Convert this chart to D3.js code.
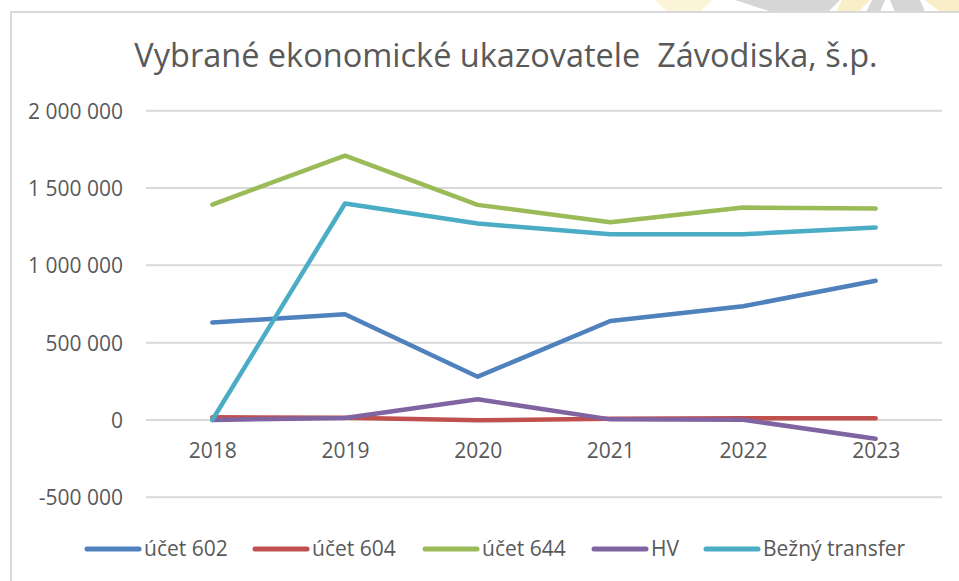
<!DOCTYPE html>
<html>
<head>
<meta charset="utf-8">
<script src="https://cdn.jsdelivr.net/npm/d3@7"></script>
<style>
  html, body { margin: 0; padding: 0; background: #fff; }
  svg { display: block; }
  text { font-family: "Open Sans", sans-serif; fill: #595959; }
</style>
</head>
<body>
<svg id="chart" width="959" height="581"></svg>
<script>
const title = "Vybrané ekonomické ukazovatele  Závodiska, š.p.";
const years = ["2018", "2019", "2020", "2021", "2022", "2023"];
const yTicks = [-500000, 0, 500000, 1000000, 1500000, 2000000];

const seriesNames = ["účet 602", "účet 604", "účet 644", "HV", "Bežný transfer"];
const seriesColors = ["#4f81bd", "#c0504d", "#9bbb59", "#8064a2", "#4bacc6"];

const ucet602 = [630000, 684000, 280000, 640000, 735000, 900000];
const ucet604 = [17000, 15000, -2000, 8000, 11000, 11000];
const ucet644 = [1393000, 1710000, 1391000, 1279000, 1374000, 1367000];
const hv = [0, 13000, 134000, 4000, 2000, -121000];
const beznyTransfer = [0, 1400000, 1270000, 1201000, 1201000, 1244000];

const seriesValues = [ucet602, ucet604, ucet644, hv, beznyTransfer];

const svg = d3.select("#chart");

// decorative watermark remnant above the chart frame
const wm = svg.append("g");
wm.append("path").attr("d", "M655,0 L712,0 L700,12 L668,12 Z").attr("fill", "#fbf4d6");
wm.append("path").attr("d", "M735,0 L840,0 L828,12 L772,12 Z").attr("fill", "#d6d6d6");
wm.append("path").attr("d", "M842,0 L870,0 L858,12 L836,12 Z").attr("fill", "#f8eec8");
wm.append("path").attr("d", "M872,0 L885,0 L880,12 L866,12 Z").attr("fill", "#d6d6d6");
wm.append("path").attr("d", "M890,0 L920,0 L925,12 L895,12 Z").attr("fill", "#d6d6d6");
wm.append("path").attr("d", "M925,0 L959,0 L959,12 L940,12 Z").attr("fill", "#f8eec8");

// chart frame
svg.append("path")
  .attr("d", "M11,581 L11,12 L959,12")
  .attr("fill", "none")
  .attr("stroke", "#d9d9d9")
  .attr("stroke-width", 2);

const x = d3.scalePoint().domain(years).range([146, 942]).padding(0.5);
const y = d3.scaleLinear().domain([-500000, 2000000]).range([497.3, 110.7]);

const fmt = v => d3.format(",")(v).replace(/,/g, "\u00a0").replace("\u2212", "-");

// title
svg.append("text")
  .attr("x", 506)
  .attr("y", 67)
  .attr("text-anchor", "middle")
  .style("font-size", "32.5px")
  .style("white-space", "pre")
  .text(title);

// gridlines
svg.append("g")
  .selectAll("line")
  .data(yTicks)
  .join("line")
  .attr("x1", 146).attr("x2", 942)
  .attr("y1", d => y(d)).attr("y2", d => y(d))
  .attr("stroke", "#d9d9d9")
  .attr("stroke-width", 2);

// y axis labels
const yAxis = d3.axisLeft(y).tickValues(yTicks).tickSize(0).tickPadding(0).tickFormat(fmt);
const gy = svg.append("g").attr("transform", "translate(123,0)").call(yAxis);
gy.select(".domain").remove();
gy.selectAll("text").style("font-size", "21px").style("font-family", "'Open Sans', sans-serif").attr("fill", "#595959").attr("dy", "0.35em");

// x axis labels
const xAxis = d3.axisBottom(x).tickSize(0).tickPadding(23);
const gx = svg.append("g").attr("transform", `translate(0,${y(0)})`).call(xAxis);
gx.select(".domain").remove();
gx.selectAll("text").style("font-size", "21px").style("font-family", "'Open Sans', sans-serif").attr("fill", "#595959");

// lines
const line = d3.line().x((d, i) => x(years[i])).y(d => y(d));
svg.append("g")
  .selectAll("path")
  .data(seriesValues)
  .join("path")
  .attr("d", d => line(d))
  .attr("fill", "none")
  .attr("stroke", (d, i) => seriesColors[i])
  .attr("stroke-width", 4.5)
  .attr("stroke-linejoin", "round")
  .attr("stroke-linecap", "round");

// legend
const legendX = [85, 253, 423, 592, 704];
const lg = svg.append("g");
seriesNames.forEach((name, i) => {
  lg.append("line")
    .attr("x1", legendX[i] + 2).attr("x2", legendX[i] + 54)
    .attr("y1", 549).attr("y2", 549)
    .attr("stroke", seriesColors[i])
    .attr("stroke-width", 5)
    .attr("stroke-linecap", "round");
  lg.append("text")
    .attr("x", legendX[i] + 59)
    .attr("y", 549)
    .attr("dy", "0.35em")
    .style("font-size", "21px")
    .text(name);
});
</script>
</body>
</html>
